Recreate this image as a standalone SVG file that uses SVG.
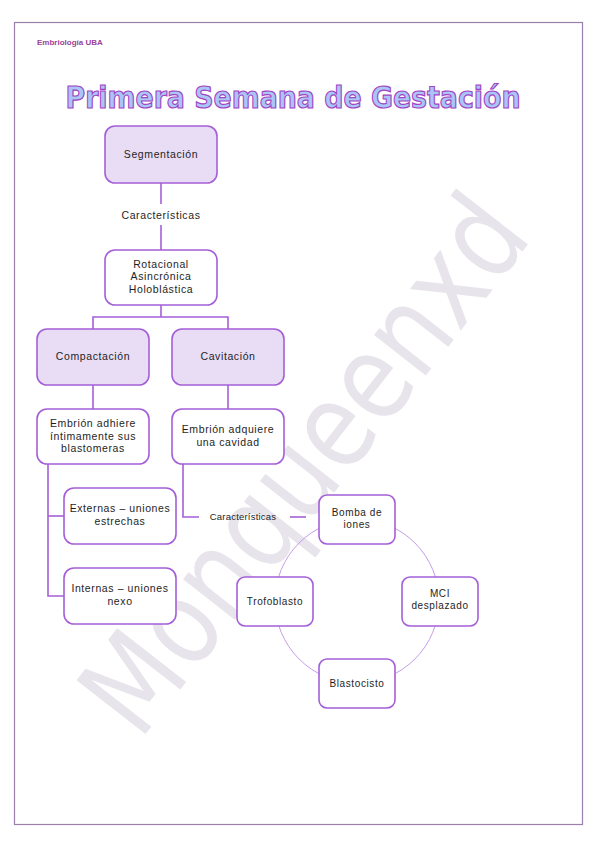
<svg xmlns="http://www.w3.org/2000/svg" width="599" height="848" viewBox="0 0 599 848">
<style>
  .box{stroke:#a45fd8;stroke-width:1.6}
  .main{fill:#e9ddf6}
  .sub{fill:#ffffff}
  .lbl{font-family:"Liberation Sans",Arial,sans-serif;font-size:10.5px;fill:#1e1e1e;text-anchor:middle;letter-spacing:0.6px}
  .con{fill:none;stroke:#a45fd8;stroke-width:1.6}
  .cyc{fill:none;stroke:#c69ce8;stroke-width:1}
</style>
<rect x="0" y="0" width="599" height="848" fill="#ffffff"/>
<rect x="14.5" y="22.5" width="568" height="802" fill="none" stroke="#9a7fa8" stroke-width="1.2"/>
<text x="37" y="45" font-family="'Liberation Sans',Arial,sans-serif" font-size="8" font-weight="bold" fill="#9a3f9a">Embriología UBA</text>
<text x="0" y="0" transform="translate(305,465) rotate(-52)" font-family="'DejaVu Sans',sans-serif" font-size="120" fill="#e8e4ec" text-anchor="middle" dy="40" textLength="640" lengthAdjust="spacingAndGlyphs">Monqueenxd</text>
<text x="293" y="108" font-family="'DejaVu Sans',sans-serif" font-size="30" font-weight="bold" fill="#a9c6f7" stroke="#a143c4" stroke-width="1.2" text-anchor="middle" textLength="455" lengthAdjust="spacingAndGlyphs">Primera Semana de Gestación</text>

<g id="connectors">
  <line class="con" x1="161" y1="183" x2="161" y2="204"/>
  <line class="con" x1="161" y1="225" x2="161" y2="250"/>
  <text class="lbl" x="161" y="219">Características</text>
  <polyline class="con" points="161,305 161,317"/>
  <polyline class="con" points="93,329 93,317 228,317 228,329"/>
  <line class="con" x1="93" y1="385" x2="93" y2="409"/>
  <line class="con" x1="228" y1="385" x2="228" y2="409"/>
  <polyline class="con" points="48,464 48,596 64,596"/>
  <line class="con" x1="48" y1="516" x2="64" y2="516"/>
  <polyline class="con" points="183,464 183,517 199,517"/>
  <text class="lbl" x="243" y="520" style="font-size:9.5px;letter-spacing:0.2px">Características</text>
  <line class="con" x1="290" y1="517" x2="306" y2="517"/>
  <circle class="cyc" cx="357" cy="601" r="82"/>
</g>

<g id="segmentacion"><rect class="box main" x="105" y="126" width="112" height="57" rx="10"/><text class="lbl" x="161" y="158">Segmentación</text></g>
<g id="rotacional"><rect class="box sub" x="105" y="250" width="112" height="55" rx="10"/><text class="lbl" x="161" y="268">Rotacional</text><text class="lbl" x="161" y="280">Asincrónica</text><text class="lbl" x="161" y="293">Holoblástica</text></g>
<g id="compactacion"><rect class="box main" x="37" y="329" width="112" height="56" rx="10"/><text class="lbl" x="93" y="360">Compactación</text></g>
<g id="cavitacion"><rect class="box main" x="172" y="329" width="112" height="56" rx="10"/><text class="lbl" x="228" y="360">Cavitación</text></g>
<g id="adhiere"><rect class="box sub" x="37" y="409" width="112" height="55" rx="10"/><text class="lbl" x="93" y="427">Embrión adhiere</text><text class="lbl" x="93" y="440">íntimamente sus</text><text class="lbl" x="93" y="452">blastomeras</text></g>
<g id="adquiere"><rect class="box sub" x="172" y="409" width="112" height="55" rx="10"/><text class="lbl" x="228" y="433">Embrión adquiere</text><text class="lbl" x="228" y="446">una cavidad</text></g>
<g id="externas"><rect class="box sub" x="64" y="488" width="112" height="56" rx="10"/><text class="lbl" x="120" y="512">Externas – uniones</text><text class="lbl" x="120" y="525">estrechas</text></g>
<g id="internas"><rect class="box sub" x="64" y="568" width="112" height="56" rx="10"/><text class="lbl" x="120" y="592">Internas – uniones</text><text class="lbl" x="120" y="605">nexo</text></g>
<g id="bomba"><rect class="box sub" x="319" y="495" width="76" height="49" rx="8"/><text class="lbl" x="357" y="516" style="font-size:10px">Bomba de</text><text class="lbl" x="357" y="528" style="font-size:10px">iones</text></g>
<g id="mci"><rect class="box sub" x="402" y="577" width="76" height="49" rx="8"/><text class="lbl" x="440" y="597" style="font-size:10px">MCI</text><text class="lbl" x="440" y="609" style="font-size:10px">desplazado</text></g>
<g id="blastocisto"><rect class="box sub" x="319" y="659" width="76" height="49" rx="8"/><text class="lbl" x="357" y="687" style="font-size:10px">Blastocisto</text></g>
<g id="trofoblasto"><rect class="box sub" x="237" y="577" width="76" height="49" rx="8"/><text class="lbl" x="275" y="605" style="font-size:10px">Trofoblasto</text></g>
</svg>
